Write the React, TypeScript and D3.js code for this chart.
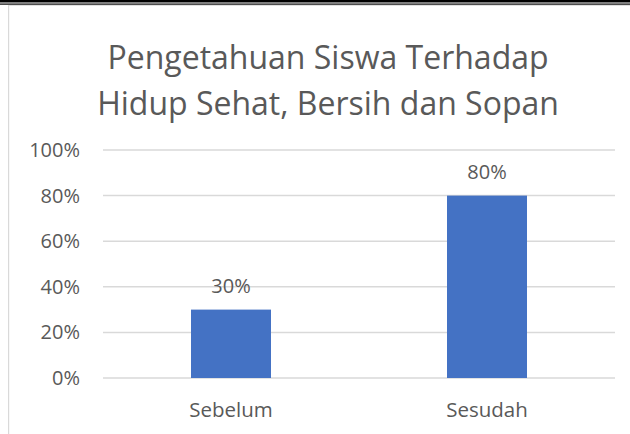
import React from "react";
import * as d3 from "d3";

const categories = ["Sebelum", "Sesudah"];
const values = [0.3, 0.8];
const ticks = [0, 0.2, 0.4, 0.6, 0.8, 1.0];
const titleLines = ["Pengetahuan Siswa Terhadap", "Hidup Sehat, Bersih dan Sopan"];

const W = 630;
const H = 434;
const FONT = "'Open Sans', sans-serif";
const TXT = "#595959";

export default function App() {
  const x = d3.scaleBand<string>().domain(categories).range([103, 615]).paddingInner(0).paddingOuter(0);
  const y = d3.scaleLinear().domain([0, 1]).range([378, 150]);
  const barW = 80;
  const fmt = d3.format(".0%");
  return (
    <svg width={W} height={H} style={{ position: "absolute", left: 0, top: 0, background: "#fff" }}>
      <rect x={0} y={0} width={W} height={H} fill="#fff" />
      <rect x={0} y={0} width={W} height={2.5} fill="#000" />
      <rect x={0} y={3.5} width={W} height={1.2} fill="#000" />
      <rect x={8} y={5} width={W - 8} height={1} fill="#e0e0e0" />
      <rect x={8} y={5} width={1.2} height={H - 5} fill="#d9d9d9" />
      {titleLines.map((t, i) => (
        <text key={t} x={328} y={69 + i * 46} textAnchor="middle" fontFamily={FONT} fontSize={32} fill={TXT}>
          {t}
        </text>
      ))}
      {ticks.map((t) => (
        <g key={t}>
          <line x1={103} x2={615} y1={y(t)} y2={y(t)} stroke="#d9d9d9" strokeWidth={1.5} />
          <text x={80} y={y(t) + 7} textAnchor="end" fontFamily={FONT} fontSize={20} fill={TXT}>
            {fmt(t)}
          </text>
        </g>
      ))}
      {categories.map((c, i) => {
        const cx = (x(c) as number) + x.bandwidth() / 2;
        return (
          <g key={c}>
            <rect x={cx - barW / 2} y={y(values[i])} width={barW} height={y(0) - y(values[i])} fill="#4472c4" />
            <text x={cx} y={y(values[i]) - 17} textAnchor="middle" fontFamily={FONT} fontSize={20} fill={TXT}>
              {fmt(values[i])}
            </text>
            <text x={cx} y={417} textAnchor="middle" fontFamily={FONT} fontSize={20.5} fill={TXT}>
              {c}
            </text>
          </g>
        );
      })}
    </svg>
  );
}
